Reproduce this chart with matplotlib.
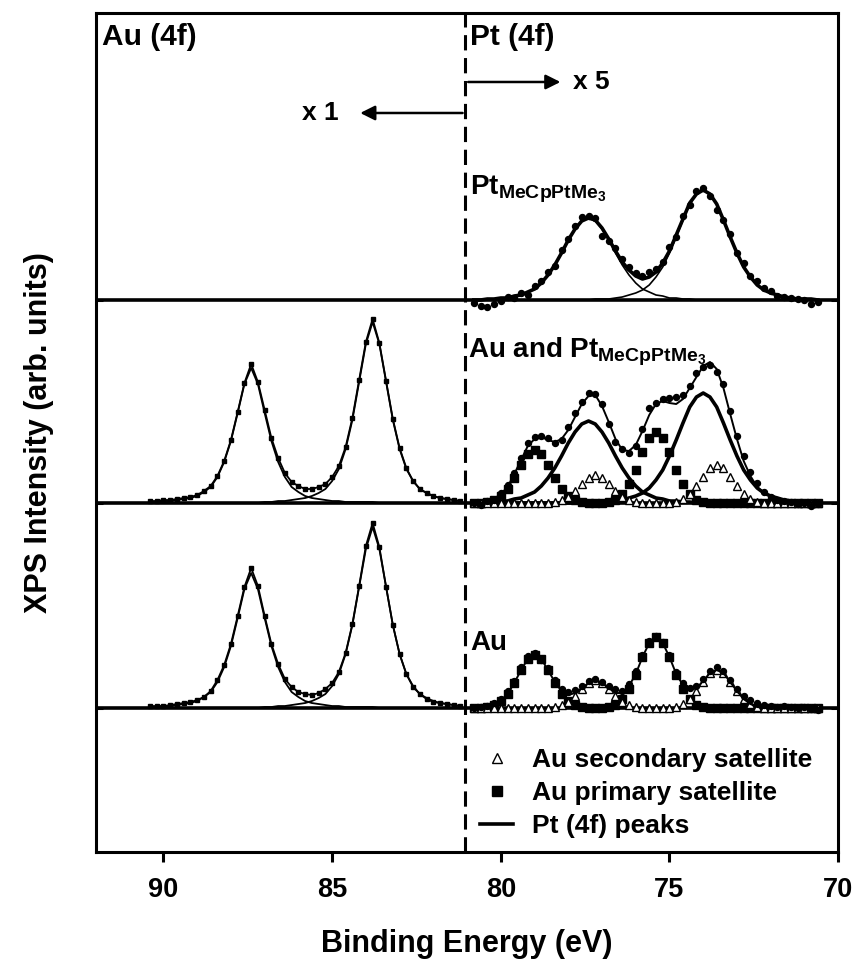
import matplotlib
matplotlib.use('Agg')
import matplotlib.pyplot as plt
import numpy as np

plt.rcParams['font.family'] = ['Liberation Sans', 'DejaVu Sans']
plt.rcParams['font.weight'] = 'bold'
plt.rcParams['mathtext.fontset'] = 'custom'
plt.rcParams['mathtext.rm'] = 'Liberation Sans:bold'
plt.rcParams['mathtext.it'] = 'Liberation Sans:bold'
plt.rcParams['mathtext.bf'] = 'Liberation Sans:bold'

# ---------------------------------------------------------------
# data (intensities in display units above each spectrum baseline)
# ---------------------------------------------------------------
# Au 4f region (x1), binding energy grid
au_be = np.round(np.arange(90.4, 81.1, -0.2), 1)
au_fit_a = [1, 1, 2, 2, 3, 4, 5, 7, 11, 16, 26, 41, 62, 90, 119, 135, 119, 90, 62, 41,
            26, 16, 11, 7, 5, 4, 3, 2, 2, 1, 1, 1, 1, 1] + [0] * 13
au_fit_b = [0] * 17 + [1, 1, 2, 2, 3, 4, 5, 7, 10, 14, 22, 34, 54, 83, 121, 159, 181,
                       159, 121, 83, 54, 34, 22, 14, 10, 7, 5, 4, 3, 2]
au_data_mid = [2, 2, 3, 3, 4, 5, 6, 8, 12, 17, 27, 42, 63, 91, 120, 139, 121, 93, 65, 45,
               30, 21, 17, 14, 14, 16, 19, 26, 37, 56, 85, 123, 161, 184, 160, 122, 84, 55, 35, 22,
               14, 10, 7, 5, 4, 3, 2]
au_data_bot = [2, 2, 2, 3, 4, 5, 6, 8, 11, 17, 28, 43, 64, 92, 121, 140, 122, 92, 64, 44,
               29, 21, 16, 14, 13, 15, 19, 25, 36, 55, 84, 122, 162, 185, 161, 121, 83, 54, 34, 21,
               14, 9, 6, 5, 4, 3, 2]

# Pt 4f region (x5)
pt_be = np.round(np.arange(80.8, 70.5, -0.2), 1)
pt_fit_a = [0, 0, 1, 1, 2, 2, 4, 5, 8, 11, 17, 25, 35, 47, 60, 71, 79, 82, 79, 71,
            60, 47, 35, 25, 17, 11, 8, 5, 4, 2, 2, 1, 1] + [0] * 19
pt_fit_b = [0] * 18 + [1, 1, 1, 2, 3, 5, 7, 10, 15, 23, 33, 47, 63, 80, 96, 106, 110,
                       106, 96, 80, 63, 47, 33, 23, 15, 10, 7, 5, 3, 2, 1, 1, 1, 0]
au_sat_primary = [0, 0, 1, 3, 7, 14, 25, 38, 49, 53, 49, 38, 25, 14, 7, 3, 1, 0, 0, 0,
                  1, 3, 9, 19, 33, 51, 65, 71, 65, 51, 33, 19, 9, 3, 1] + [0] * 17
au_sat_secondary = ([0] * 12 + [1, 3, 6, 12, 19, 25, 28, 25, 19, 12, 6, 3, 1] + [0] * 5
                    + [1, 4, 9, 17, 26, 35, 38, 35, 26, 17, 9, 4, 1] + [0] * 9)

pt_top_env = [0, 0, 1, 1, 2, 2, 4, 5, 8, 11, 17, 25, 35, 47, 60, 71, 79, 82, 80, 72,
              61, 49, 38, 30, 24, 21, 23, 28, 37, 49, 65, 81, 97, 106, 110, 106, 96, 80, 63, 47,
              33, 23, 15, 10, 7, 5, 3, 2, 1, 1, 1, 0]
pt_top_data = [-3, -6, -7, -4, -1, 3, 2, 7, 5, 14, 19, 28, 34, 50, 61, 74, 83, 84, 82, 64,
               59, 52, 41, 33, 27, 24, 28, 31, 38, 53, 63, 84, 95, 109, 112, 104, 90, 80, 66, 47,
               37, 24, 19, 12, 9, 4, 3, 2, 1, 0, -4, -2]
pt_mid_env = [0, 0, 2, 4, 9, 16, 29, 43, 57, 64, 66, 63, 61, 64, 73, 86, 99, 107, 108, 97,
              81, 64, 53, 52, 58, 72, 88, 99, 102, 100, 99, 104, 115, 126, 137, 141, 134, 115, 89, 64,
              42, 27, 16, 10, 7, 5, 3, 2, 1, 1, 1, 0]
pt_mid_data = [0, -2, 2, 3, 10, 18, 30, 45, 60, 66, 67, 65, 60, 63, 76, 90, 101, 110, 109, 99,
               79, 61, 54, 50, 57, 74, 95, 100, 104, 105, 106, 108, 117, 130, 136, 138, 131, 119, 92, 67,
               47, 31, 20, 11, 6, 3, 2, 1, -1, 0, -3, -1]
pt_bot_env = [0, 0, 1, 3, 7, 14, 25, 38, 49, 53, 49, 38, 26, 17, 13, 15, 20, 25, 28, 25,
              20, 15, 15, 22, 34, 51, 65, 71, 65, 51, 34, 23, 18, 20, 27, 35, 38, 35, 26, 17,
              9, 4, 1, 0, 0, 0, 0, 0, 0, 0, 0, 0]
pt_bot_data = [0, 1, 2, 5, 9, 17, 27, 41, 52, 55, 48, 40, 28, 19, 16, 18, 22, 27, 29, 26,
               22, 19, 17, 24, 37, 53, 67, 72, 66, 53, 36, 25, 20, 22, 29, 37, 41, 37, 28, 19,
               12, 8, 5, 3, 2, 1, 2, 1, 0, 1, -1, -2]

# stacking offsets (bottom: Au, middle: Au + Pt, top: Pt only)
offsets = {'bot': 144, 'mid': 349, 'top': 552}
x_split = 81.05

legend_labels = ['Au secondary satellite', 'Au primary satellite', 'Pt (4f) peaks']


def shifted(vals, key):
    return np.asarray(vals, dtype=float) + offsets[key]


fig = plt.figure(figsize=(8.57, 9.69), dpi=100)
ax = fig.add_axes([0.112, 0.1207, 0.866, 0.8659])
ax.set_xlim(92, 70)
ax.set_ylim(0, 839)

for key in offsets:
    ax.axhline(offsets[key], color='black', lw=2.6, zorder=1)

# ---- Au 4f region --------------------------------------------------
for key, data in (('mid', au_data_mid), ('bot', au_data_bot)):
    ax.plot(au_be, shifted(au_fit_a, key), color='black', lw=1.3, zorder=2)
    ax.plot(au_be, shifted(au_fit_b, key), color='black', lw=1.3, zorder=2)
    ax.plot(au_be, shifted(data, key), color='black', lw=1.3, marker='s',
            ms=2.8, zorder=3)

# ---- Pt 4f region, top (Pt only) ----------------------------------
ax.plot(pt_be, shifted(pt_fit_a, 'top'), color='black', lw=1.2, zorder=2)
ax.plot(pt_be, shifted(pt_fit_b, 'top'), color='black', lw=1.2, zorder=2)
ax.plot(pt_be, shifted(pt_top_env, 'top'), color='black', lw=2.6, zorder=3)
ax.plot(pt_be, shifted(pt_top_data, 'top'), 'o', color='black', ms=4.3, zorder=4)

# ---- Pt 4f region, middle (Au and Pt) -----------------------------
line_pt, = ax.plot(pt_be, shifted(pt_fit_a, 'mid'), color='black', lw=2.6, zorder=2)
ax.plot(pt_be, shifted(pt_fit_b, 'mid'), color='black', lw=2.6, zorder=2)
sq_mid, = ax.plot(pt_be, shifted(au_sat_primary, 'mid'), 's', color='black',
                  ms=5.2, zorder=3)
tri_mid, = ax.plot(pt_be, shifted(au_sat_secondary, 'mid'), '^', mfc='white',
                   mec='black', mew=1.0, ms=5.4, zorder=3)
ax.plot(pt_be, shifted(pt_mid_env, 'mid'), color='black', lw=1.4, zorder=4)
ax.plot(pt_be, shifted(pt_mid_data, 'mid'), 'o', color='black', ms=4.3, zorder=4)

# ---- Pt 4f region, bottom (Au only) -------------------------------
ax.plot(pt_be, shifted(au_sat_primary, 'bot'), 's', color='black', ms=5.2, zorder=3)
ax.plot(pt_be, shifted(au_sat_secondary, 'bot'), '^', mfc='white', mec='black',
        mew=1.0, ms=5.4, zorder=3)
ax.plot(pt_be, shifted(pt_bot_env, 'bot'), color='black', lw=1.4, zorder=4)
ax.plot(pt_be, shifted(pt_bot_data, 'bot'), 'o', color='black', ms=4.3, zorder=4)

# divider and scale arrows
ax.axvline(x_split, color='black', lw=2.2, ls=(0, (5, 2.5)), zorder=5)
ax.annotate('', xy=(84.25, 739), xytext=(x_split, 739),
            arrowprops=dict(arrowstyle='-|>', color='black', lw=1.8, mutation_scale=22))
ax.annotate('', xy=(78.15, 770), xytext=(x_split, 770),
            arrowprops=dict(arrowstyle='-|>', color='black', lw=1.8, mutation_scale=22))
ax.text(84.8, 739, 'x 1', ha='right', va='center', fontsize=19, fontweight='bold')
ax.text(77.86, 770, 'x 5', ha='left', va='center', fontsize=19, fontweight='bold')

ax.text(91.82, 829, 'Au (4f)', ha='left', va='top', fontsize=21.5, fontweight='bold')
ax.text(80.91, 829, 'Pt (4f)', ha='left', va='top', fontsize=21.5, fontweight='bold')
ax.text(80.91, 657, r'Pt$_{\mathrm{MeCpPtMe}_{\mathrm{3}}}$', ha='left', va='baseline',
        fontsize=20)
ax.text(80.97, 495, r'Au and Pt$_{\mathrm{MeCpPtMe}_{\mathrm{3}}}$', ha='left',
        va='baseline', fontsize=20)
ax.text(80.91, 202, 'Au', ha='left', va='baseline', fontsize=20)

ax.legend([tri_mid, sq_mid, line_pt], legend_labels, loc='lower left',
          bbox_to_anchor=(0.5175, 0.017), frameon=False, fontsize=19,
          handlelength=1.25, handletextpad=0.7, labelspacing=0.33,
          borderpad=0, borderaxespad=0, numpoints=1, markerscale=1.4)

# axes styling
ax.set_xticks([90, 85, 80, 75, 70])
ax.tick_params(axis='x', direction='out', length=7, width=2.2, labelsize=19.5,
               pad=11, top=False)
ax.set_yticks(list(offsets.values()))
ax.tick_params(axis='y', direction='in', length=5, width=2.2, left=True, right=True,
               labelleft=False)
for spine in ax.spines.values():
    spine.set_linewidth(2.2)

ax.set_xlabel('Binding Energy (eV)', fontsize=22, fontweight='bold', labelpad=19)
ax.set_ylabel('XPS Intensity (arb. units)', fontsize=22, fontweight='bold', labelpad=30)

fig.savefig('out.png', dpi=100)
